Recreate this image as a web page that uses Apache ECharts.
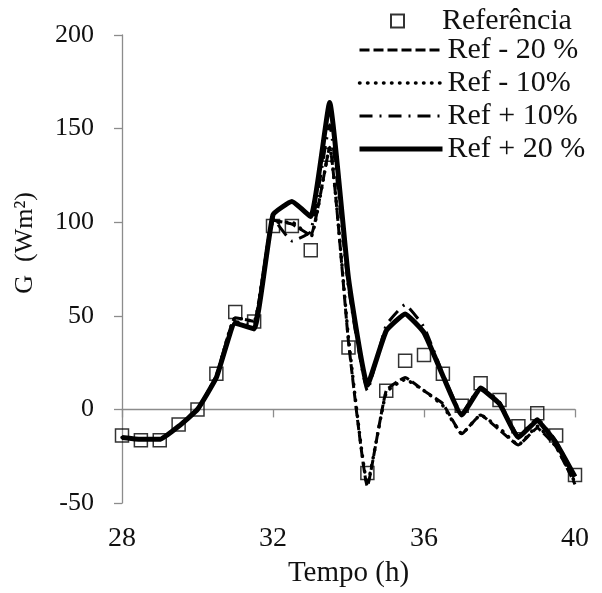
<!DOCTYPE html>
<html>
<head>
<meta charset="utf-8">
<script src="https://cdn.jsdelivr.net/npm/echarts@6/dist/echarts.min.js"></script>
<style>
  html, body { margin: 0; padding: 0; background: #fff; }
  #chart { width: 602px; height: 593px; }
</style>
</head>
<body>
<div id="chart"></div>
<script>
// Time axis (hours), half-hour steps
const tempo = [28, 28.5, 29, 29.5, 30, 30.5, 31, 31.5, 32, 32.5, 33, 33.5, 34,
               34.5, 35, 35.5, 36, 36.5, 37, 37.5, 38, 38.5, 39, 39.5, 40];

// Reference flux G (W m^-2)
const referencia = [-14, -16.5, -16.5, -8, 0, 19, 52, 47, 98, 98, 85, 136, 33,
                    -34, 10, 26, 29, 19, 2, 14, 5, -9, -2, -14, -35];

// Sensitivity runs
const refMenos20 = [-15, -16, -16, -9, 0, 18, 49, 47, 101, 99, 93, 140, 36,
                    -41, 10, 17, 10, 3, -13, -3, -11, -19, -10, -20, -40];
const refMenos10 = [-15, -16, -16, -9, 0, 18, 49, 47, 100, 100, 92, 140, 38,
                    -40, 9, 16, 10, 2, -13, -3, -10, -19, -9, -20, -39];
const refMais10 = [-15, -16, -16, -9, 0, 17, 47, 45, 102, 90, 95, 152, 65,
                   10, 45, 56, 44, 19, -2, 12, 4, -14, -5, -17, -36];
const refMais20 = [-15, -16, -16, -9, 0, 17, 46, 43, 104, 111, 103, 164, 70,
                   13, 42, 51, 41, 18, -3, 11, 3, -15, -6, -18, -36];

const xTicks = [28, 32, 36, 40];
const seriesNames = ['Referência', 'Ref - 20 %', 'Ref - 10%', 'Ref + 10%', 'Ref + 20 %'];

const FONT = '"Liberation Serif", "Times New Roman", serif';
const pairs = arr => tempo.map((t, i) => [t, arr[i]]);

// Stroke styles shared by each curve and its legend sample
const styles = {
  'Ref - 20 %': { width: 3, type: [10, 4], cap: 'butt' },
  'Ref - 10%': { width: 3.5, type: [0.5, 7.5], cap: 'round' },
  'Ref + 10%': { width: 3, type: [13, 7, 2, 7], cap: 'butt' },
  'Ref + 20 %': { width: 5, type: 'solid', cap: 'butt' }
};

const lineSeries = (name, data) => ({
  name,
  type: 'line',
  data: pairs(data),
  symbol: 'none',
  smooth: 0.12,
  itemStyle: { color: '#000' },
  lineStyle: Object.assign({ color: '#000' }, styles[name]),
  z: 3
});

const chart = echarts.init(document.getElementById('chart'));
chart.setOption({
  backgroundColor: '#fff',
  animation: false,
  grid: { left: 122, right: 27, top: 35, bottom: 87, containLabel: false },
  xAxis: {
    type: 'value',
    min: 28, max: 40, interval: 4,
    name: 'Tempo (h)',
    nameLocation: 'middle',
    nameGap: 56,
    nameTextStyle: { fontFamily: FONT, fontSize: 29, color: '#111' },
    axisLine: { lineStyle: { color: '#8c8c8c', width: 1.3 } },
    axisTick: { show: true, length: 8, lineStyle: { color: '#8c8c8c', width: 1.3 } },
    axisLabel: {
      margin: 22, fontFamily: FONT, fontSize: 28, color: '#111',
      formatter: v => (xTicks.includes(v) ? String(v) : '')
    },
    splitLine: { show: false }
  },
  yAxis: {
    type: 'value',
    min: -50, max: 200, interval: 50,
    axisLine: { show: true, lineStyle: { color: '#8c8c8c', width: 1.3 } },
    axisTick: { show: true, length: 8, lineStyle: { color: '#8c8c8c', width: 1.3 } },
    axisLabel: { margin: 28, fontFamily: FONT, fontSize: 26, color: '#111' },
    splitLine: { show: false }
  },
  legend: [
    {
      data: [seriesNames[0]],
      orient: 'vertical',
      left: 390, top: 6, padding: 0,
      itemWidth: 13, itemHeight: 13,
      textStyle: { fontFamily: FONT, fontSize: 30, color: '#111', padding: [0, 0, 0, 33] }
    },
    {
      data: seriesNames.slice(1).map(n => ({
        name: n,
        lineStyle: Object.assign({ color: '#000' }, styles[n])
      })),
      orient: 'vertical',
      left: 357, top: 35, padding: 0,
      itemWidth: 83, itemHeight: 14, itemGap: 3,
      itemStyle: { color: 'rgba(0,0,0,0)', borderWidth: 0, opacity: 0 },
      textStyle: { fontFamily: FONT, fontSize: 30, color: '#111' }
    }
  ],
  graphic: [
    {
      type: 'text',
      left: 12, top: 192,
      rotation: Math.PI / 2,
      style: {
        text: 'G  (Wm²)',
        font: '26px ' + FONT,
        fill: '#111'
      }
    }
  ],
  series: [
    {
      name: seriesNames[0],
      type: 'scatter',
      data: pairs(referencia),
      symbol: 'rect',
      symbolSize: 13,
      itemStyle: { color: 'rgba(255,255,255,0)', borderColor: '#000', borderWidth: 1.5 },
      z: 2
    },
    lineSeries(seriesNames[1], refMenos20),
    lineSeries(seriesNames[2], refMenos10),
    lineSeries(seriesNames[3], refMais10),
    lineSeries(seriesNames[4], refMais20)
  ]
});
</script>
</body>
</html>
